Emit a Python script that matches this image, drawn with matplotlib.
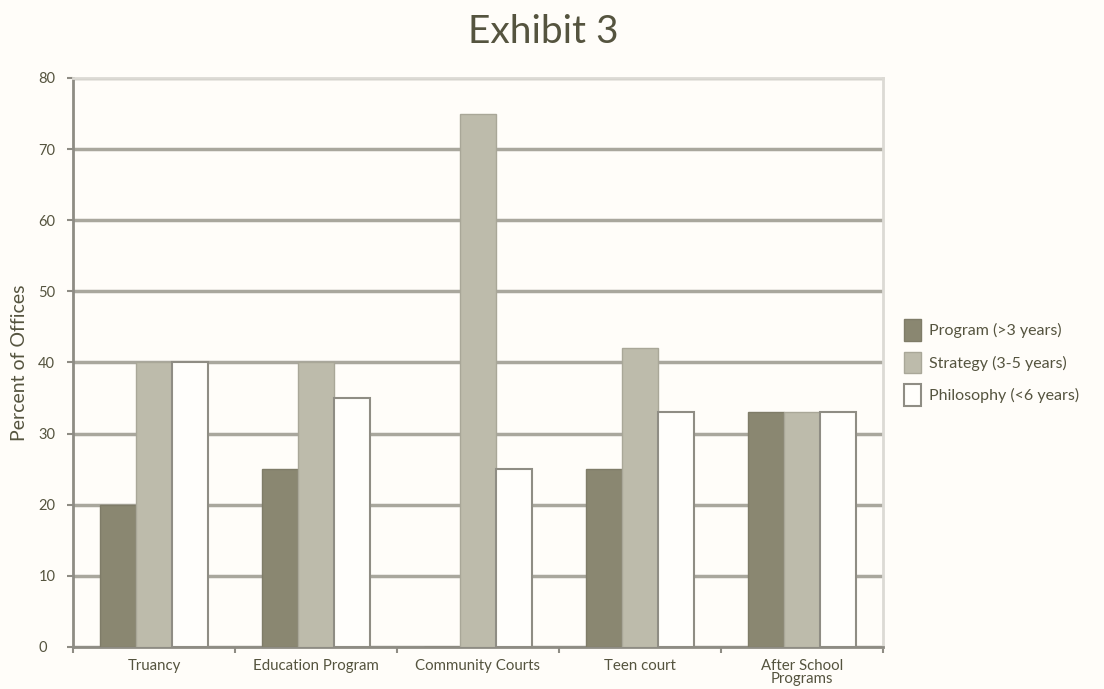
import numpy as np
import matplotlib.pyplot as plt

plt.rcParams['font.family'] = ['Lato', 'DejaVu Sans']

categories = ['Truancy', 'Education Program', 'Community Courts', 'Teen court',
              'After School\nPrograms']
program = [20, 25, 0, 25, 33]
strategy = [40, 40, 75, 42, 33]
philosophy = [40, 35, 25, 33, 33]
series_names = ['Program (>3 years)', 'Strategy (3-5 years)', 'Philosophy (<6 years)']

text_col = '#55543f'
bg = '#fffdf9'

fig = plt.figure(figsize=(11.04, 6.89), dpi=100, facecolor=bg)
ax = fig.add_axes([0.0661, 0.061, 0.7337, 0.8258], facecolor=bg)

x = np.arange(len(categories))
w = 0.222
ax.bar(x - w, program, w, color='#8a8771', edgecolor='#7f7c68', linewidth=1, label=series_names[0], zorder=3)
ax.bar(x, strategy, w, color='#bdbbab', edgecolor='#a9a798', linewidth=1, label=series_names[1], zorder=3)
ax.bar(x + w, philosophy, w, color='#fffefb', edgecolor='#8f8d84', linewidth=1.5, label=series_names[2], zorder=3)

ax.set_xlim(-0.5, len(categories) - 0.5)
ax.set_ylim(0, 80)
ax.set_yticks(range(0, 81, 10))
ax.yaxis.grid(True, color='#a9a79d', linewidth=2.5, zorder=0)
ax.set_axisbelow(True)

for s in ['top', 'right']:
    ax.spines[s].set_color('#dcdad4')
    ax.spines[s].set_linewidth(2)
for s in ['left', 'bottom']:
    ax.spines[s].set_color('#8e8c84')
    ax.spines[s].set_linewidth(2)

ax.set_xticks(x)
ax.set_xticklabels(categories, fontsize=10.8, color=text_col, linespacing=0.85)
ax.set_xticks(np.arange(-0.5, len(categories), 1), minor=True)
ax.tick_params(axis='x', which='major', length=0, pad=9)
ax.tick_params(axis='x', which='minor', length=4, color='#8e8c84', width=1.5)
ax.tick_params(axis='y', length=4, color='#8e8c84', width=1.5, labelsize=10.5, labelcolor=text_col, pad=21)
for lab in ax.get_yticklabels():
    lab.set_horizontalalignment('left')

ax.set_ylabel('Percent of Offices', fontsize=14, color=text_col)
ax.yaxis.set_label_coords(-0.056, 0.5)
fig.text(0.492, 0.953, 'Exhibit 3', ha='center', va='center', fontsize=28, color=text_col)

leg = ax.legend(loc='center left', bbox_to_anchor=(1.008, 0.5), frameon=False,
                fontsize=11.5, labelcolor=text_col, handlelength=1.1, handleheight=1.7,
                handletextpad=0.5, labelspacing=0.7)

fig.savefig('out.png', dpi=100, facecolor=bg)
